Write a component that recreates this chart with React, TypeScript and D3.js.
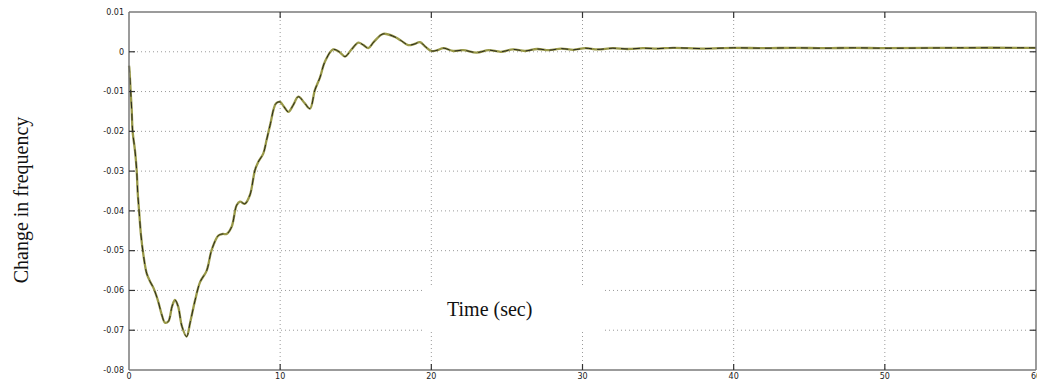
import React from "react";
import * as d3 from "d3";

const timeSec = [
  0, 0.02, 0.11, 0.18, 0.24, 0.4, 0.51, 0.58, 0.68, 0.79, 0.95, 1.17, 1.4, 1.61, 1.92, 2.16, 2.38, 2.6,
  2.85, 3.04, 3.25, 3.5, 3.81, 4.05, 4.37, 4.7, 5.14, 5.47, 5.91, 6.2, 6.46, 6.79, 7.12, 7.34, 7.67, 8.0,
  8.33, 8.55, 8.88, 9.1, 9.33, 9.72, 9.99, 10.25, 10.54, 10.85, 11.2, 11.6, 11.97, 12.3, 12.63, 12.96,
  13.5, 13.9, 14.29, 14.7, 15.17, 15.5, 15.83, 16.2, 16.82, 17.6, 18.0, 18.47, 18.85, 19.25, 19.6, 20.0,
  20.4, 20.8, 21.45, 22.1, 23.0, 23.8, 24.6, 25.4, 26.2, 27.0, 27.8, 28.6, 29.4, 30.2, 31, 32, 33, 34, 35,
  36, 38, 40, 42, 44, 46, 48, 50, 55, 60,
];

const freqChange = [
  -0.0035, -0.004, -0.01, -0.0147, -0.02, -0.025, -0.03, -0.0356, -0.0406, -0.046, -0.051, -0.0557,
  -0.0578, -0.0593, -0.0626, -0.066, -0.0681, -0.0678, -0.064, -0.0624, -0.064, -0.069, -0.0716, -0.068,
  -0.0625, -0.0579, -0.055, -0.0498, -0.0462, -0.0458, -0.0458, -0.044, -0.0386, -0.0377, -0.0382,
  -0.036, -0.0298, -0.0277, -0.0256, -0.0222, -0.0185, -0.013, -0.0126, -0.0138, -0.0151, -0.0135,
  -0.0113, -0.0128, -0.0143, -0.0096, -0.0065, -0.0025, 0.0006, 0.0, -0.0012, 0.0005, 0.0023, 0.0017,
  0.0009, 0.0025, 0.0045, 0.0037, 0.0028, 0.0017, 0.0019, 0.0024, 0.0013, 0.0002, 0.0004, 0.0009,
  0.0002, 0.0004, -0.0002, 0.0004, 0.0, 0.0006, 0.0002, 0.0007, 0.0004, 0.0008, 0.0005, 0.0009, 0.0006,
  0.0009, 0.0007, 0.0009, 0.0008, 0.001, 0.0008, 0.001, 0.0009, 0.001, 0.0009, 0.001, 0.0009, 0.001,
  0.001,
];

const xTicks = [0, 10, 20, 30, 40, 50, 60];
const yTicks = [0.01, 0, -0.01, -0.02, -0.03, -0.04, -0.05, -0.06, -0.07, -0.08];
const yTickLabels = ["0.01", "0", "-0.01", "-0.02", "-0.03", "-0.04", "-0.05", "-0.06", "-0.07", "-0.08"];

const W = 1037;
const H = 379;

export default function App() {
  const x = d3.scaleLinear().domain([0, 60]).range([129, 1036]);
  const y = d3.scaleLinear().domain([-0.08, 0.01]).range([370, 12]);

  const points: [number, number][] = timeSec.map((t, i) => [t, freqChange[i]]);
  const line = d3
    .line<[number, number]>()
    .x((d) => x(d[0]))
    .y((d) => y(d[1]))
    .curve(d3.curveCatmullRom.alpha(0.5));
  const path = line(points) || "";

  const [x0, x1] = x.range();
  const [yb, yt] = y.range();
  const tickFont = "'DejaVu Sans', sans-serif";
  const serif = "'Liberation Serif', 'Times New Roman', serif";

  return (
    <svg
      width={W}
      height={H}
      style={{ position: "absolute", left: 0, top: 0, background: "#fff" }}
    >
      {/* grid */}
      <g stroke="#9a9a9a" strokeWidth={1} strokeDasharray="1,3">
        {xTicks
          .filter((t) => t > 0 && t < 60)
          .map((t) => (
            <line key={"gx" + t} x1={x(t)} x2={x(t)} y1={yt} y2={yb} />
          ))}
        {yTicks
          .filter((v) => v > -0.08 && v < 0.01)
          .map((v) => (
            <line key={"gy" + v} x1={x0} x2={x1} y1={y(v)} y2={y(v)} />
          ))}
      </g>

      {/* white box behind the x title */}
      <rect x={425} y={285} width={180} height={47} fill="#fff" />
      <text x={447} y={316} fontFamily={serif} fontSize={20} fill="#111">
        Time (sec)
      </text>

      {/* two nearly coincident responses */}
      <path d={path} fill="none" stroke="#999948" strokeWidth={2.3} />
      <path d={path} fill="none" stroke="#1a1a1a" strokeWidth={0.9} strokeDasharray="7,5" />

      {/* frame */}
      <g stroke="#7a7a7a" strokeWidth={1.5} fill="none">
        <line x1={x0} x2={x1} y1={yt} y2={yt} />
        <line x1={x0} x2={x1} y1={yb} y2={yb} />
        <line x1={x0} x2={x0} y1={yt} y2={yb} />
        <line x1={x1} x2={x1} y1={yt} y2={yb} />
      </g>

      {/* ticks, pointing inward */}
      <g stroke="#333" strokeWidth={1.2}>
        {xTicks
          .filter((t) => t > 0 && t < 60)
          .map((t) => (
            <g key={"tx" + t}>
              <line x1={x(t)} x2={x(t)} y1={yb} y2={yb - 6} />
              <line x1={x(t)} x2={x(t)} y1={yt} y2={yt + 6} />
            </g>
          ))}
        {yTicks
          .filter((v) => v > -0.08 && v < 0.01)
          .map((v) => (
            <g key={"ty" + v}>
              <line x1={x0} x2={x0 + 6} y1={y(v)} y2={y(v)} />
              <line x1={x1} x2={x1 - 6} y1={y(v)} y2={y(v)} />
            </g>
          ))}
      </g>

      {/* tick labels */}
      <g fontFamily={tickFont} fontSize={8} fill="#222">
        {yTicks.map((v, i) => (
          <text key={"ly" + v} x={x0 - 5} y={y(v)} dy="0.35em" textAnchor="end">
            {yTickLabels[i]}
          </text>
        ))}
        {xTicks.map((t) => (
          <text key={"lx" + t} x={x(t)} y={379} textAnchor="middle">
            {t}
          </text>
        ))}
      </g>

      {/* y title */}
      <text
        transform="translate(28,200) rotate(-90)"
        textAnchor="middle"
        fontFamily={serif}
        fontSize={20}
        fill="#111"
      >
        Change in frequency
      </text>
    </svg>
  );
}
